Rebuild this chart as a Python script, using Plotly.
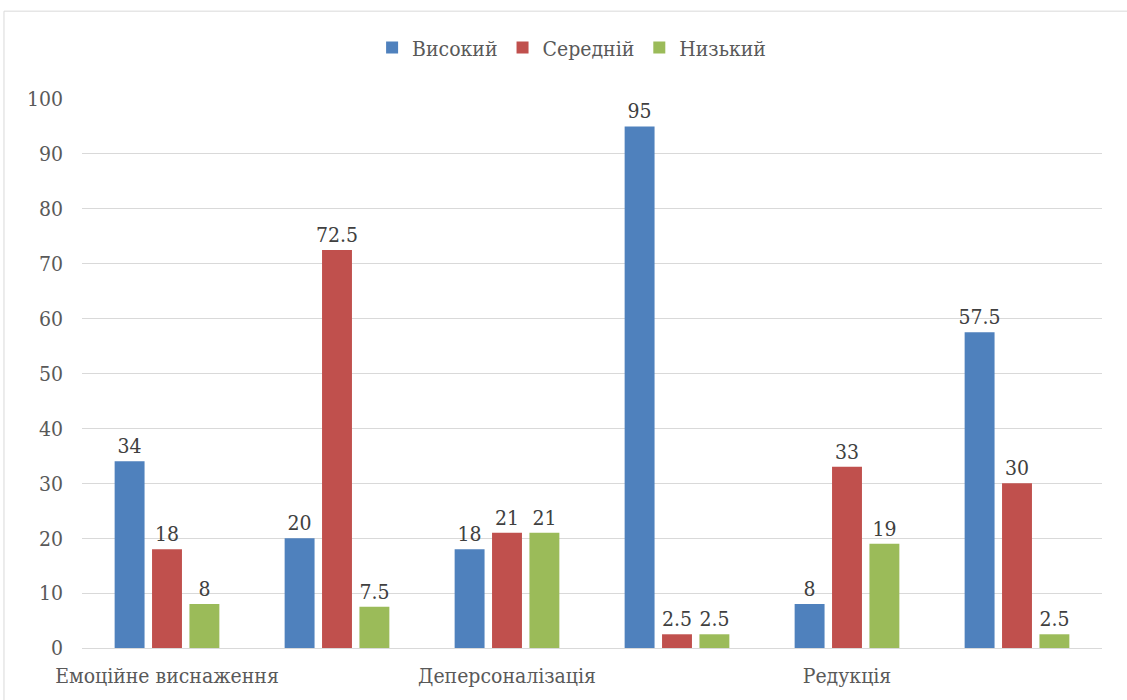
import plotly.graph_objects as go

# Burnout scales; every second group carries the scale name on the axis
groups = ["Емоційне виснаження", "", "Деперсоналізація", "", "Редукція", ""]
series_names = ["Високий", "Середній", "Низький"]
high = [34, 20, 18, 95, 8, 57.5]
medium = [18, 72.5, 21, 2.5, 33, 30]
low = [8, 7.5, 21, 2.5, 19, 2.5]
y_ticks = [0, 10, 20, 30, 40, 50, 60, 70, 80, 90, 100]

colors = ["#4F81BD", "#C0504D", "#9BBB59"]
font_family = "DejaVu Serif Condensed, DejaVu Serif, serif"
text_color = "#595959"
fsize = 21

x_pos = list(range(len(groups)))

fig = go.Figure()
for name, vals, col in zip(series_names, [high, medium, low], colors):
    fig.add_trace(go.Bar(
        x=x_pos, y=vals, name=name,
        marker=dict(color=col, line=dict(width=0)),
        text=[f"{v:g}" for v in vals],
        textposition="outside",
        constraintext="none",
        textfont=dict(family=font_family, size=fsize, color="#404040"),
        cliponaxis=False,
    ))

fig.update_layout(
    width=1127, height=700,
    margin=dict(l=82, r=25, t=99, b=52),
    paper_bgcolor="white", plot_bgcolor="white",
    barmode="group", bargap=0.34, bargroupgap=0.2,
    font=dict(family=font_family, size=fsize, color=text_color),
    legend=dict(orientation="h", x=0.48, xanchor="center", y=1.093, yanchor="middle",
                font=dict(family=font_family, size=fsize, color=text_color),
                itemwidth=30, traceorder="normal"),
    xaxis=dict(
        range=[-0.5, len(groups) - 0.5],
        tickmode="array", tickvals=[x for x, g in zip(x_pos, groups) if g],
        ticktext=[g for g in groups if g],
        showgrid=False, zeroline=False, showline=False, ticks="",
        ticklabelstandoff=13,
        tickfont=dict(family=font_family, size=fsize, color=text_color),
    ),
    yaxis=dict(
        range=[0, 100], tickmode="array", tickvals=y_ticks,
        showgrid=True, gridcolor="#D9D9D9", gridwidth=1,
        zeroline=True, zerolinecolor="#D9D9D9", zerolinewidth=1,
        showline=False, ticks="", ticklabelstandoff=18,
        tickfont=dict(family=font_family, size=fsize, color=text_color),
    ),
    shapes=[dict(type="rect", xref="paper", yref="paper",
                 x0=-0.0765, x1=1.2, y0=-0.2, y1=1.160,
                 line=dict(color="#D9D9D9", width=1), fillcolor="rgba(0,0,0,0)",
                 layer="below")],
)

fig.write_html("out.html")
